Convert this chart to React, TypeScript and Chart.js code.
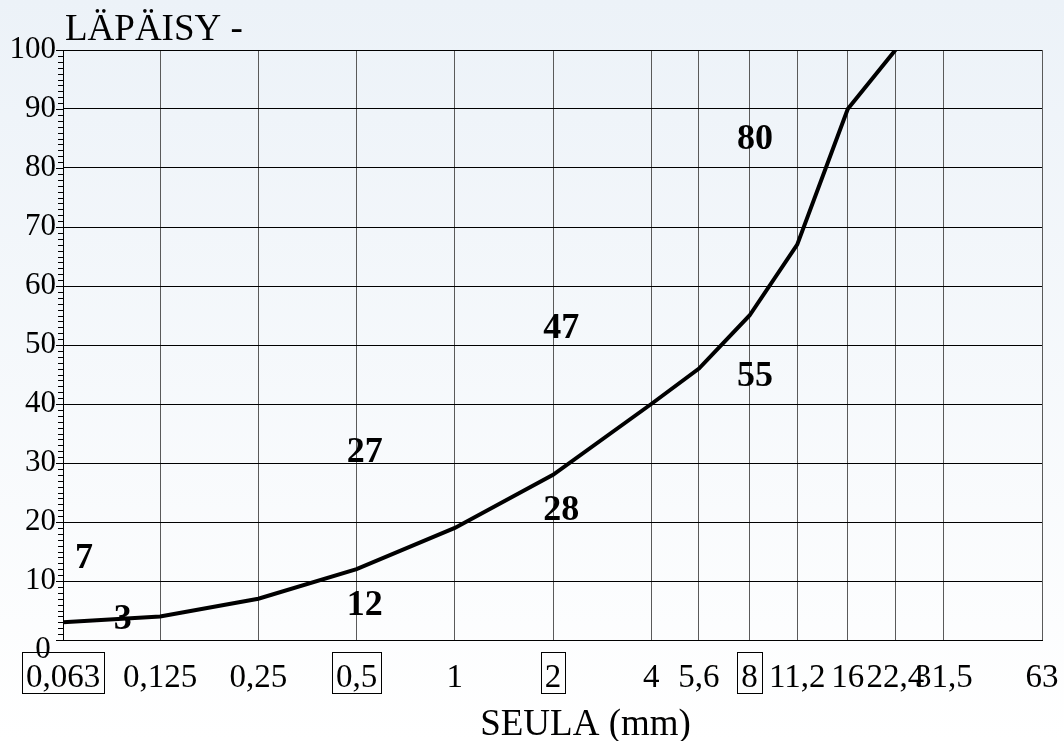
import React, { useEffect, useRef } from "react";
import { Chart, registerables } from "chart.js";

Chart.register(...registerables);

const sieves = [0.063, 0.125, 0.25, 0.5, 1, 2, 4, 5.6, 8, 11.2, 16, 22.4, 31.5, 63];
const sieveLabels = ["0,063", "0,125", "0,25", "0,5", "1", "2", "4", "5,6", "8", "11,2", "16", "22,4", "31,5", "63"];
const boxedLabels = ["0,063", "0,5", "2", "8"];

const passX = [0.063, 0.125, 0.25, 0.5, 1, 2, 4, 5.6, 8, 11.2, 16, 22.4];
const passY = [3, 4, 7, 12, 19, 28, 40, 46, 55, 67, 90, 100];

const yMin = 0;
const yMax = 100;
const yStep = 10;

const limitTexts = ["7", "3", "12", "27", "28", "47", "55", "80"];
const limitX = [0.073, 0.096, 0.53, 0.53, 2.12, 2.12, 8.32, 8.32];
const limitY = [14.2, 3.9, 6.3, 32.2, 22.4, 53.2, 45.1, 85.2];

const yTitle = "LÄPÄISY -";
const xTitle = "SEULA (mm)";

const SERIF = "'Liberation Serif', 'Times New Roman', serif";

const backgroundPlugin = {
  id: "bgGradient",
  beforeDraw(chart: any) {
    const { ctx, width, height } = chart;
    const g = ctx.createLinearGradient(0, 0, 0, height);
    g.addColorStop(0, "rgb(236,242,248)");
    g.addColorStop(1, "rgb(255,255,255)");
    ctx.save();
    ctx.fillStyle = g;
    ctx.fillRect(0, 0, width, height);
    ctx.restore();
  },
};

const decorPlugin = {
  id: "decor",
  afterDraw(chart: any) {
    const { ctx, chartArea, scales } = chart;
    const xs = scales.x;
    const ys = scales.y;
    ctx.save();
    // minor ticks on y axis
    ctx.strokeStyle = "#000";
    ctx.lineWidth = 1;
    for (let v = yMin; v <= yMax; v += 1) {
      const y = Math.round(ys.getPixelForValue(v)) + 0.5;
      const len = v % 10 === 0 ? 7 : 5;
      ctx.beginPath();
      ctx.moveTo(chartArea.left - len, y);
      ctx.lineTo(chartArea.left, y);
      ctx.stroke();
    }
    // zero label of the y axis (sits lower in the original)
    ctx.fillStyle = "#000";
    ctx.font = `31px ${SERIF}`;
    ctx.textAlign = "center";
    ctx.textBaseline = "alphabetic";
    ctx.fillText(String(yMin), chartArea.left - 20, ys.getPixelForValue(yMin) + 18);
    // boxes around selected x labels
    ctx.font = `33px ${SERIF}`;
    boxedLabels.forEach((lab) => {
      const i = sieveLabels.indexOf(lab);
      const px = xs.getPixelForValue(sieves[i]);
      const w = ctx.measureText(lab).width;
      const x0 = Math.round(px - w / 2 - 4) + 0.5;
      const x1 = Math.round(px + w / 2 + 4) + 0.5;
      const y0 = Math.round(chartArea.bottom + 12) + 0.5;
      const y1 = Math.round(chartArea.bottom + 53) + 0.5;
      ctx.strokeRect(x0, y0, x1 - x0, y1 - y0);
    });
    // limit annotations
    ctx.font = `bold 36px ${SERIF}`;
    ctx.textAlign = "center";
    limitTexts.forEach((t, i) => {
      const px = xs.getPixelForValue(limitX[i]);
      const py = ys.getPixelForValue(limitY[i]);
      ctx.fillText(t, px, py + 12);
    });
    // titles
    ctx.font = `37px ${SERIF}`;
    ctx.textAlign = "left";
    ctx.fillText(yTitle, chartArea.left + 2, chartArea.top - 10);
    ctx.textAlign = "center";
    ctx.fillText(xTitle, (chartArea.left + chartArea.right) / 2 + 33, chartArea.bottom + 95);
    ctx.restore();
  },
};

export default function App() {
  const ref = useRef<HTMLCanvasElement | null>(null);

  useEffect(() => {
    document.body.style.margin = "0";
    if (!ref.current) return;
    const chart = new Chart(ref.current, {
      type: "line",
      data: {
        datasets: [
          {
            data: passX.map((x, i) => ({ x, y: passY[i] })),
            borderColor: "#000",
            borderWidth: 4,
            pointRadius: 0,
            tension: 0,
            fill: false,
          },
        ],
      },
      options: {
        animation: false,
        responsive: false,
        devicePixelRatio: 1,
        layout: { padding: { top: 50, right: 22, left: 0, bottom: 0 } },
        plugins: { legend: { display: false }, tooltip: { enabled: false } },
        scales: {
          x: {
            type: "logarithmic",
            min: sieves[0],
            max: sieves[sieves.length - 1],
            afterBuildTicks(scale: any) {
              scale.ticks = sieves.map((v) => ({ value: v }));
            },
            afterFit(scale: any) {
              scale.height = 101;
              scale.paddingLeft = 0;
              scale.paddingRight = 0;
            },
            grid: { color: "#5a5a5a", lineWidth: 1, drawTicks: false },
            border: { color: "#000", width: 1 },
            ticks: {
              autoSkip: false,
              maxRotation: 0,
              minRotation: 0,
              padding: 19,
              color: "#000",
              font: { family: SERIF, size: 33 },
              callback(value: any) {
                const i = sieves.findIndex((s) => Math.abs(s - Number(value)) < 1e-9);
                return i >= 0 ? sieveLabels[i] : "";
              },
            },
          },
          y: {
            type: "linear",
            min: yMin,
            max: yMax,
            afterFit(scale: any) {
              scale.width = 63;
              scale.paddingTop = 0;
              scale.paddingBottom = 0;
            },
            grid: { color: "#000", lineWidth: 1, drawTicks: false },
            border: { color: "#000", width: 1 },
            ticks: {
              stepSize: yStep,
              padding: 7,
              color: "#000",
              font: { family: SERIF, size: 31 },
              callback(value: any) {
                return Number(value) === yMin ? "" : String(value);
              },
            },
          },
        },
      },
      plugins: [backgroundPlugin, decorPlugin],
    });
    return () => chart.destroy();
  }, []);

  return <canvas ref={ref} width={1064} height={741} style={{ display: "block", width: 1064, height: 741 }} />;
}
